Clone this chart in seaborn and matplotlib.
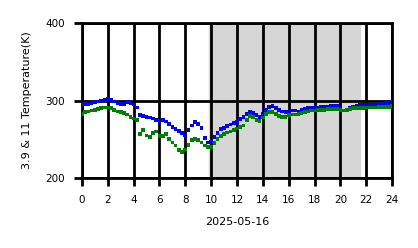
import numpy as np
import pandas as pd
import seaborn as sns
import matplotlib
matplotlib.use("Agg")
import matplotlib.pyplot as plt

hours = np.arange(0, 24.01, 0.25)

t39 = [295, 296, 296, 297, 298, 299, 300, 301, 302, 301, 299, 297, 296, 296, 298, 297,
       295, 291, 281, 280, 279, 278, 277, 275, 274, 275, 273, 270, 266, 263, 261, 258,
       255, 262, 268, 272, 270, 265, 252, 246, 247, 253, 258, 263, 265, 267, 269, 271,
       273, 276, 279, 283, 285, 284, 281, 279, 283, 288, 292, 293, 290, 288, 286, 285,
       286, 287, 287, 286, 288, 289, 290, 291, 291, 291, 292, 292, 292, 293, 293, 293,
       290, 287, 287, 290, 292, 293, 294, 294, 294, 295, 295, 295, 296, 296, 297, 297, 298]

t11 = [283, 285, 286, 287, 288, 289, 290, 291, 291, 290, 288, 286, 285, 284, 282, 279,
       277, 275, 257, 262, 255, 253, 258, 260, 254, 254, 257, 250, 246, 242, 236, 234,
       237, 243, 249, 250, 249, 246, 242, 240, 240, 245, 250, 254, 257, 259, 260, 262,
       264, 266, 268, 275, 280, 279, 275, 274, 278, 283, 285, 285, 283, 280, 279, 279,
       281, 282, 282, 283, 284, 285, 286, 287, 287, 288, 288, 288, 289, 289, 289, 289,
       288, 287, 288, 289, 290, 290, 290, 290, 291, 291, 291, 291, 292, 292, 292, 292, 293]

shade_start, shade_end = 9.8, 21.5

df = pd.DataFrame({"hour": np.concatenate([hours, hours]),
                   "temp": t39 + t11,
                   "band": ["3.9"] * len(hours) + ["11"] * len(hours)})

fig = plt.figure(figsize=(4.18, 2.48), dpi=100)
ax = fig.add_axes([0.196, 0.282, 0.742, 0.625])

ax.axvspan(shade_start, shade_end, color="#d6d6d6", zorder=0)
sns.scatterplot(data=df, x="hour", y="temp", hue="band",
                palette={"3.9": "blue", "11": "green"}, marker="s", s=7,
                linewidth=0, legend=False, ax=ax, zorder=3)

ax.set_xlim(0, 24)
ax.set_ylim(200, 400)
ax.set_xticks(range(0, 25, 2))
ax.set_yticks([200, 300, 400])
ax.grid(True, color="black", linewidth=2)
ax.set_axisbelow(True)
for s in ax.spines.values():
    s.set_linewidth(2)
ax.tick_params(labelsize=7.5, width=2, length=6, pad=6)
ax.set_xlabel("2025-05-16", fontsize=8, labelpad=9)
ax.set_ylabel("3.9 & 11 Temperature(K)", fontsize=8, labelpad=10)

fig.savefig("out.png", dpi=100)
